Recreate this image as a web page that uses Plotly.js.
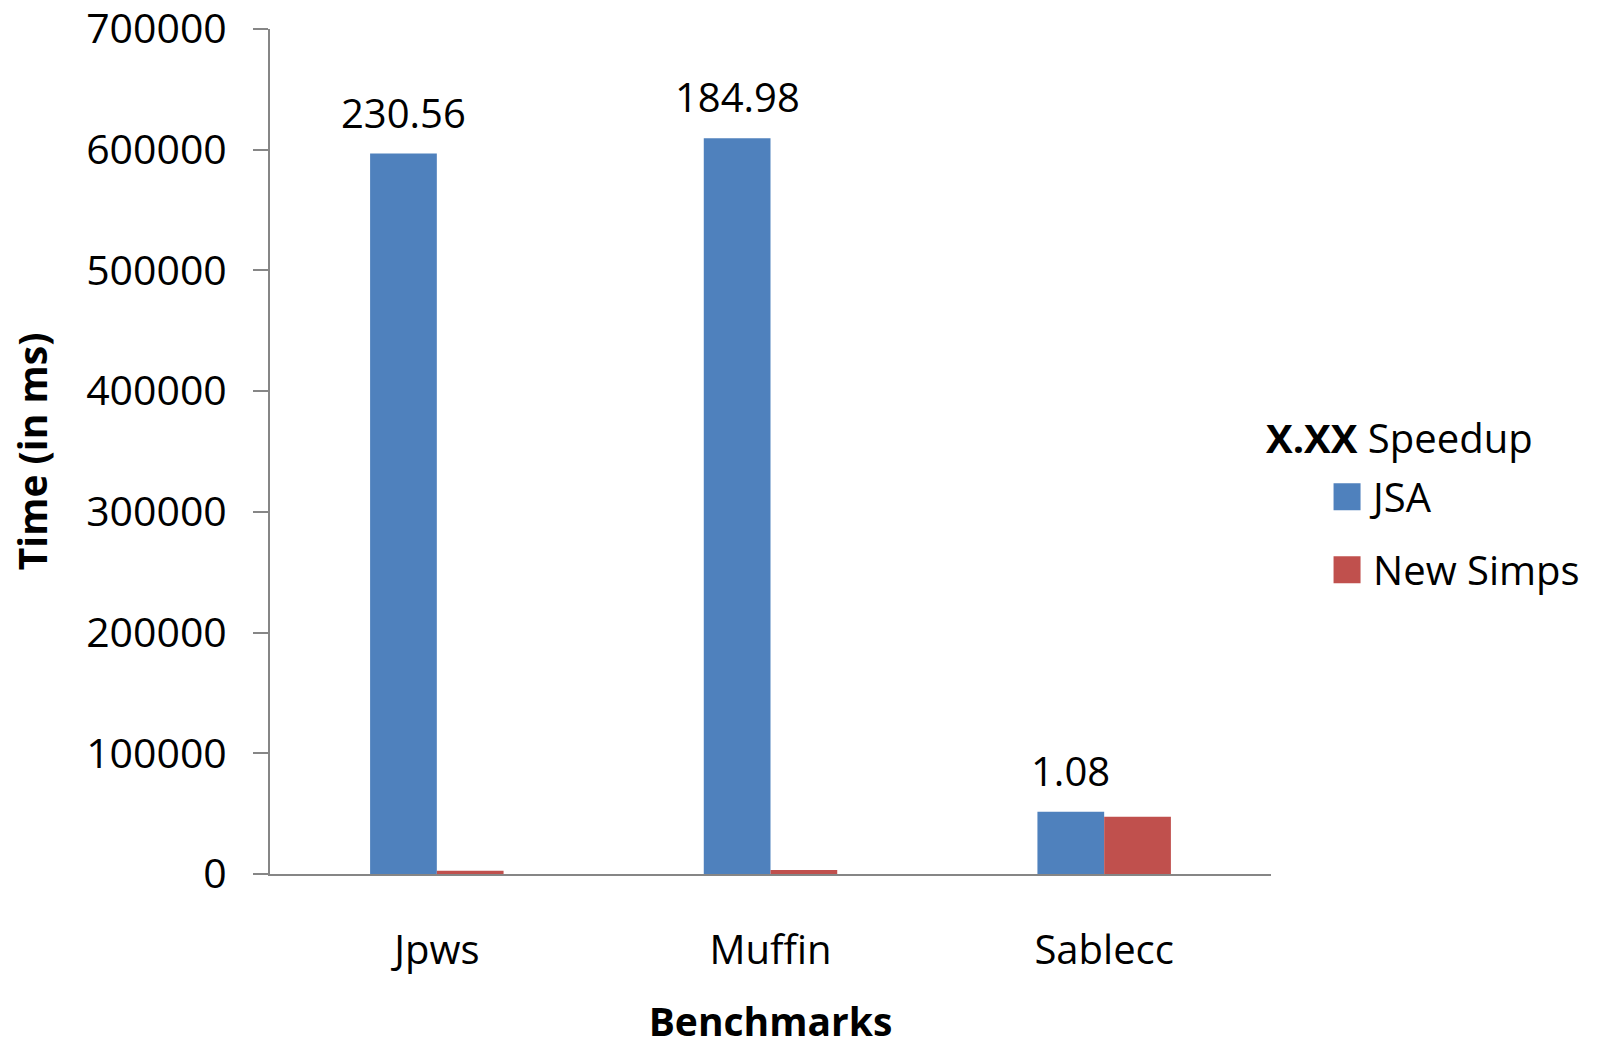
<!DOCTYPE html>
<html>
<head>
<meta charset="utf-8">
<script src="https://cdn.plot.ly/plotly-3.0.1.min.js"></script>
<style>html,body{margin:0;padding:0;background:#fff;}</style>
</head>
<body>
<div id="chart" style="width:1597px;height:1047px;"></div>
<script>
// Data
const categories = ['Jpws', 'Muffin', 'Sablecc'];
const jsaTimes = [596800, 609400, 51550];
const newSimpsTimes = [2590, 3290, 47330];
const speedupLabels = ['230.56', '184.98', '1.08'];
const yTickVals = [0, 100000, 200000, 300000, 400000, 500000, 600000, 700000];

const FONT = '"Open Sans", Lato, sans-serif';
const AXIS_COLOR = '#868686';

const traces = [
  {
    type: 'bar', name: 'JSA', x: categories, y: jsaTimes,
    marker: {color: '#4F81BD'}, legendgroup: 'a', hoverinfo: 'x+y+name'
  },
  {
    type: 'bar', name: 'New Simps', x: categories, y: newSimpsTimes,
    marker: {color: '#C0504D'}, legendgroup: 'b', hoverinfo: 'x+y+name'
  }
];

const annotations = categories.map((c, i) => ({
  x: c, y: jsaTimes[i], xref: 'x', yref: 'y',
  text: speedupLabels[i], showarrow: false,
  xanchor: 'center', yanchor: 'bottom', xshift: -33.4, yshift: 12,
  font: {family: FONT, size: 40, color: '#000'}
}));
annotations.push({
  xref: 'paper', yref: 'paper', x: 0.993, y: 0.516,
  xanchor: 'left', yanchor: 'middle', showarrow: false,
  text: '<b>X.XX</b> Speedup',
  font: {family: FONT, size: 40, color: '#000'}
});

const layout = {
  width: 1597, height: 1047,
  margin: {l: 270, r: 326, t: 29, b: 173},
  paper_bgcolor: '#fff', plot_bgcolor: '#fff',
  font: {family: FONT, size: 40, color: '#000'},
  barmode: 'group', bargap: 0.6, bargroupgap: 0,
  showlegend: true,
  legend: {
    x: 1.050, y: 0.485, xanchor: 'left', yanchor: 'top',
    itemwidth: 42,
    font: {family: FONT, size: 40, color: '#000'},
    tracegroupgap: 18, bgcolor: 'rgba(0,0,0,0)', borderwidth: 0
  },
  xaxis: {
    type: 'category', showline: true, linecolor: AXIS_COLOR, linewidth: 2,
    ticks: '', showgrid: false, zeroline: false,
    ticklabelstandoff: 40,
    tickfont: {family: FONT, size: 40, color: '#000'},
    title: {text: '<b>Benchmarks</b>', standoff: 55, font: {family: FONT, size: 39, color: '#000'}}
  },
  yaxis: {
    range: [0, 700000], tickvals: yTickVals, tickformat: 'd',
    showline: true, linecolor: AXIS_COLOR, linewidth: 2,
    ticks: 'outside', ticklen: 15, tickwidth: 2, tickcolor: AXIS_COLOR,
    showgrid: false, zeroline: false,
    ticklabelstandoff: 18, ticklabeloverflow: 'allow',
    tickfont: {family: FONT, size: 41, color: '#000'},
    title: {text: '<b>Time (in ms)</b>', standoff: 26, font: {family: FONT, size: 39, color: '#000'}}
  },
  annotations: annotations
};

const gd = document.getElementById('chart');
function enlargeSwatches() {
  gd.querySelectorAll('.legendpoints path').forEach(p => {
    p.setAttribute('d', 'M13.5,13.5H-13.5V-13.5H13.5Z');
  });
}
Plotly.newPlot(gd, traces, layout, {staticPlot: true}).then(() => {
  enlargeSwatches();
  setTimeout(enlargeSwatches, 50);
});
gd.on && gd.on('plotly_afterplot', enlargeSwatches);
</script>
</body>
</html>
